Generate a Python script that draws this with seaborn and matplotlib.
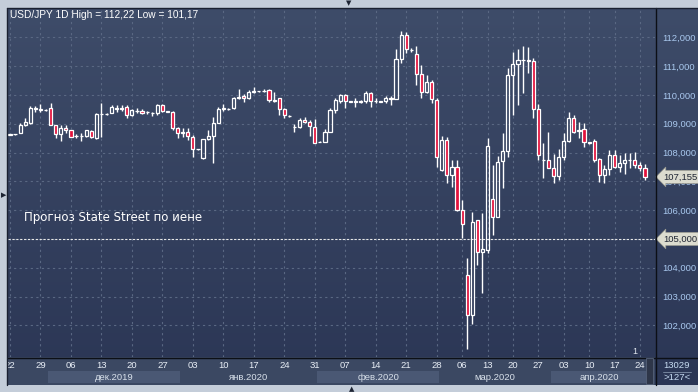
import numpy as np
import matplotlib
matplotlib.use("Agg")
import matplotlib.pyplot as plt
import matplotlib.transforms as mtransforms
from matplotlib.colors import LinearSegmentedColormap
from matplotlib.patches import Rectangle
from matplotlib.lines import Line2D
import seaborn as sns

# ---------------- data ----------------
opens = [108.62, 108.63, 108.69, 108.95, 109.01, 109.50, 109.50, 109.49, 109.53, 108.95,
         108.63, 108.87, 108.78, 108.57, 108.58, 108.59, 108.76, 108.49, 109.33, 109.34,
         109.36, 109.55, 109.55, 109.57, 109.30, 109.46, 109.46, 109.40, 109.38, 109.36,
         109.65, 109.43, 109.40, 108.84, 108.67, 108.70, 108.55, 108.12, 107.80, 108.46,
         108.57, 109.04, 109.52, 109.52, 109.53, 109.91, 109.97, 109.89, 110.12, 110.13,
         110.13, 110.17, 109.84, 109.88, 109.50, 109.27, 108.88, 108.88, 109.13, 109.07,
         108.90, 108.38, 108.36, 108.70, 109.47, 109.80, 110.00, 109.78, 109.80, 109.78,
         109.78, 110.08, 109.78, 109.78, 109.78, 109.91, 109.86, 111.24, 112.08, 111.56,
         111.42, 110.73, 110.11, 110.46, 109.82, 107.39, 108.43, 107.22, 107.51, 106.00,
         103.75, 102.36, 105.66, 104.53, 104.61, 106.39, 105.75, 107.70, 108.05, 110.69,
         111.09, 111.21, 111.20, 111.18, 109.50, 107.74, 107.74, 107.45, 107.18, 107.85,
         108.41, 109.19, 108.74, 108.81, 108.34, 108.41, 107.76, 107.22, 107.42, 107.91,
         107.51, 107.63, 107.74, 107.75, 107.57, 107.47]
highs = [108.64, 108.65, 109.01, 109.19, 109.62, 109.60, 109.68, 109.52, 109.71, 108.97,
         108.95, 108.95, 108.80, 108.63, 108.69, 108.78, 108.80, 109.36, 109.71, 109.36,
         109.65, 109.65, 109.65, 109.65, 109.50, 109.53, 109.50, 109.44, 109.42, 109.68,
         109.68, 109.45, 109.46, 108.90, 108.84, 108.86, 108.61, 108.14, 108.46, 108.78,
         109.24, 109.59, 109.67, 109.54, 109.93, 110.19, 110.04, 110.17, 110.28, 110.15,
         110.20, 110.19, 110.11, 109.88, 109.53, 109.29, 108.99, 109.21, 109.24, 109.13,
         109.15, 108.40, 108.82, 109.55, 109.90, 110.04, 110.04, 109.80, 109.88, 109.84,
         110.15, 110.11, 109.90, 109.80, 109.97, 109.96, 111.58, 112.22, 112.17, 111.62,
         111.71, 111.04, 110.69, 110.51, 109.88, 108.57, 108.55, 107.74, 107.74, 106.35,
         104.33, 105.94, 105.66, 105.89, 108.49, 107.57, 107.88, 108.69, 110.95, 111.48,
         111.58, 111.70, 111.67, 111.27, 109.68, 108.32, 108.70, 107.95, 108.11, 108.67,
         109.42, 109.30, 109.07, 109.01, 108.37, 108.46, 107.80, 107.57, 108.09, 108.09,
         107.91, 107.97, 107.97, 108.03, 107.68, 107.59]
lows = [108.60, 108.61, 108.67, 108.93, 109.00, 109.42, 109.42, 109.45, 108.94, 108.49,
        108.41, 108.69, 108.53, 108.49, 108.41, 108.55, 108.49, 108.46, 108.55, 109.32,
        109.36, 109.42, 109.44, 109.19, 109.27, 109.38, 109.33, 109.33, 109.28, 109.30,
        109.40, 109.40, 108.78, 108.49, 108.55, 108.43, 107.85, 108.08, 107.78, 108.43,
        107.65, 109.01, 109.45, 109.49, 109.51, 109.85, 109.76, 109.85, 110.06, 110.11,
        110.10, 109.74, 109.76, 109.30, 109.19, 109.24, 108.73, 108.85, 109.01, 108.57,
        108.32, 108.35, 108.36, 108.70, 109.36, 109.71, 109.53, 109.76, 109.57, 109.71,
        109.71, 109.59, 109.71, 109.76, 109.72, 109.64, 109.85, 111.10, 111.44, 111.50,
        110.34, 109.88, 110.08, 109.71, 107.51, 107.36, 106.93, 106.81, 105.98, 105.02,
        101.17, 102.05, 104.09, 103.11, 104.50, 105.14, 105.75, 106.76, 107.83, 109.30,
        109.65, 110.08, 110.75, 109.19, 107.74, 107.13, 107.45, 106.93, 107.04, 107.74,
        108.38, 108.67, 108.50, 108.20, 108.31, 107.68, 106.99, 106.93, 107.22, 107.45,
        107.33, 107.25, 107.45, 107.45, 107.37, 107.05]
closes = [108.63, 108.64, 108.95, 109.07, 109.53, 109.53, 109.49, 109.47, 108.95, 108.63,
          108.84, 108.78, 108.55, 108.56, 108.56, 108.78, 108.53, 109.33, 109.34, 109.35,
          109.57, 109.50, 109.50, 109.30, 109.48, 109.44, 109.36, 109.41, 109.37, 109.65,
          109.44, 109.42, 108.84, 108.67, 108.72, 108.59, 108.11, 108.11, 108.46, 108.57,
          109.04, 109.50, 109.56, 109.50, 109.91, 109.94, 109.89, 110.11, 110.14, 110.13,
          110.15, 109.82, 109.80, 109.50, 109.30, 109.26, 108.90, 109.13, 109.05, 108.92,
          108.34, 108.37, 108.70, 109.47, 109.82, 110.00, 109.78, 109.77, 109.74, 109.77,
          110.08, 109.78, 109.79, 109.77, 109.91, 109.86, 111.24, 112.08, 111.58, 111.55,
          110.73, 110.11, 110.46, 109.85, 107.85, 108.43, 107.22, 107.51, 106.00, 105.52,
          102.36, 105.60, 104.54, 104.64, 108.23, 105.75, 107.66, 108.05, 110.69, 111.06,
          111.21, 111.20, 111.18, 109.50, 107.91, 107.75, 107.45, 107.18, 107.85, 108.41,
          109.19, 108.72, 108.80, 108.38, 108.35, 107.74, 107.22, 107.42, 107.91, 107.51,
          107.63, 107.74, 107.75, 107.57, 107.45, 107.16]

day_tick_idx = [0, 6, 12, 18, 24, 30, 36, 42, 48, 54, 60, 66, 72, 78, 84,
                89, 94, 99, 104, 109, 114, 119, 124]
day_tick_labels = ["22", "29", "06", "13", "20", "27", "03", "10", "17", "24", "31",
                   "07", "14", "21", "28", "06", "13", "20", "27", "03", "10", "17", "24"]
month_edges = [7.5, 33.5, 60.5, 84.5, 106.5, 125.5]
month_labels = ["дек.2019", "янв.2020", "фев.2020", "мар.2020", "апр.2020"]
price_ticks = [102, 103, 104, 105, 106, 107, 108, 109, 110, 111, 112]
price_tick_labels = ["102,000", "103,000", "104,000", "105,000", "106,000", "107,000",
                     "108,000", "109,000", "110,000", "111,000", "112,000"]
last_price = 107.155
last_price_label = "107,155"
forecast_level = 105.0
forecast_label = "105,000"
title_text = "USD/JPY 1D High = 112,22 Low = 101,17"
note_text = "Прогноз State Street по иене"
info_top = "13029"
info_bottom = ">127<"

# ---------------- style ----------------
sns.set_theme(style="dark")
plt.rcParams['font.family'] = ['Liberation Sans', 'DejaVu Sans']

W, H = 698, 392
fig = plt.figure(figsize=(W / 100, H / 100), dpi=100, facecolor='#c4cdd9')


def fx(px):
    return px / W


def fy(py):
    return 1 - py / H


# dark panel with vertical gradient
bg = fig.add_axes([fx(8), fy(385), 690 / W, (385 - 8) / H])
grad = np.linspace(0, 1, 256).reshape(-1, 1)
cmap = LinearSegmentedColormap.from_list('bg', ['#3e4c69', '#2b3655'])
bg.imshow(grad, aspect='auto', cmap=cmap, extent=[0, 1, 0, 1], origin='upper')
bg.axis('off')
bg.set_zorder(0)

# main price axes
ax = fig.add_axes([fx(8), fy(357), 647 / W, 349 / H])
ax.set_facecolor('none')
ax.set_zorder(2)
ax.set_xlim(-0.39, 126.97)
ax.set_ylim(100.90, 113.02)
for s in ax.spines.values():
    s.set_visible(False)

ax.set_xticks(day_tick_idx)
ax.set_yticks(price_ticks)
ax.grid(True, color='#5a6883', ls=(0, (2, 3)), lw=0.8)
ax.tick_params(axis='x', labelbottom=False, length=0)
ax.yaxis.tick_right()
ax.set_yticklabels(price_tick_labels)
ax.tick_params(axis='y', length=0, pad=5, labelsize=6.8, labelcolor='#a9c8ee')

o = np.array(opens)
h = np.array(highs)
l = np.array(lows)
c = np.array(closes)
idx = np.arange(len(o))
top = np.maximum(o, c)
bot = np.minimum(o, c)
up = c >= o

ax.vlines(idx, top, h, color='white', lw=1.0, zorder=3)
ax.vlines(idx, l, bot, color='white', lw=1.0, zorder=3)
ax.bar(idx[up], (top - bot)[up], bottom=bot[up], width=0.62,
       facecolor='none', edgecolor='white', linewidth=0.9, zorder=4)
ax.bar(idx[~up], (top - bot)[~up], bottom=bot[~up], width=0.62,
       facecolor='#e3123c', edgecolor='white', linewidth=0.9, zorder=4)

ax.axhline(forecast_level, color='#e8e8e8', ls=(0, (2, 1.5)), lw=0.8, zorder=3)

trans = mtransforms.blended_transform_factory(ax.transAxes, ax.transData)
for val, lab in [(last_price, last_price_label), (forecast_level, forecast_label)]:
    ax.text(1.0125, val, lab, transform=trans, ha='left', va='center',
            fontsize=6.8, color='#1f2533', clip_on=False, zorder=6,
            bbox=dict(boxstyle='larrow,pad=0.22', fc='#dcdccf', ec='#9a9a90', lw=0.5))

# bottom date strip
st = fig.add_axes([fx(8), fy(385), 647 / W, 28 / H])
st.set_xlim(ax.get_xlim())
st.set_ylim(28, 0)
st.axis('off')
st.set_zorder(3)
st.add_patch(Rectangle((0, 0), 1, 1, transform=st.transAxes, fc='#3b4862', ec='none'))
for k in range(len(month_labels)):
    e0, e1 = month_edges[k], month_edges[k + 1]
    if k % 2 == 0:
        st.add_patch(Rectangle((e0, 14), e1 - e0, 12, fc='#4a5874', ec='none'))
    st.text((e0 + e1) / 2, 20, month_labels[k], ha='center', va='center',
            fontsize=6.8, color='#d8e0ea', clip_on=True)
for i, lab in zip(day_tick_idx, day_tick_labels):
    st.text(i, 9, lab, ha='center', va='center', fontsize=6.8,
            color='#e8eef6', clip_on=True)

# frame lines
for line in [
    Line2D([fx(655.5), fx(655.5)], [fy(8), fy(385)], color='#0c0f16', lw=1.0),
    Line2D([fx(8), fx(698)], [fy(357.5), fy(357.5)], color='#0c0f16', lw=1.0),
    Line2D([fx(7.5), fx(7.5)], [fy(7.5), fy(385)], color='#1a2030', lw=1.0),
    Line2D([fx(7.5), fx(698)], [fy(7.5), fy(7.5)], color='#1a2030', lw=1.0),
    Line2D([fx(663), fx(691)], [fy(371.5), fy(371.5)], color='#8090a8', lw=0.6),
]:
    line.set_zorder(10)
    fig.add_artist(line)

fig.add_artist(Rectangle((fx(646), fy(384)), 7 / W, 26 / H, transform=fig.transFigure,
                         fc='#2e3649', ec='#56627a', lw=0.6, zorder=11))

# texts
fig.text(fx(10), fy(15), title_text, ha='left', va='center', fontsize=7.3,
         color='white', zorder=12)
fig.text(fx(24), fy(218), note_text, ha='left', va='center', fontsize=8.5,
         color='white', family=['DejaVu Sans'], zorder=12)
fig.text(fx(677), fy(365), info_top, ha='center', va='center', fontsize=6.8,
         color='#c6daf0', zorder=12)
fig.text(fx(677), fy(378), info_bottom, ha='center', va='center', fontsize=6.8,
         color='#c6daf0', zorder=12)
fig.text(fx(635), fy(352), "1", ha='center', va='center', fontsize=6.5,
         color='#e0e6ee', zorder=12)
fig.text(fx(349), fy(3), '▼', ha='center', va='center', fontsize=5,
         color='#1d2433', family=['DejaVu Sans'])
fig.text(fx(352), fy(389), '▲', ha='center', va='center', fontsize=5,
         color='#1d2433', family=['DejaVu Sans'])
fig.text(fx(3.5), fy(195), '▶', ha='center', va='center', fontsize=5,
         color='#1d2433', family=['DejaVu Sans'])

fig.savefig('out.png', dpi=100, facecolor=fig.get_facecolor())
